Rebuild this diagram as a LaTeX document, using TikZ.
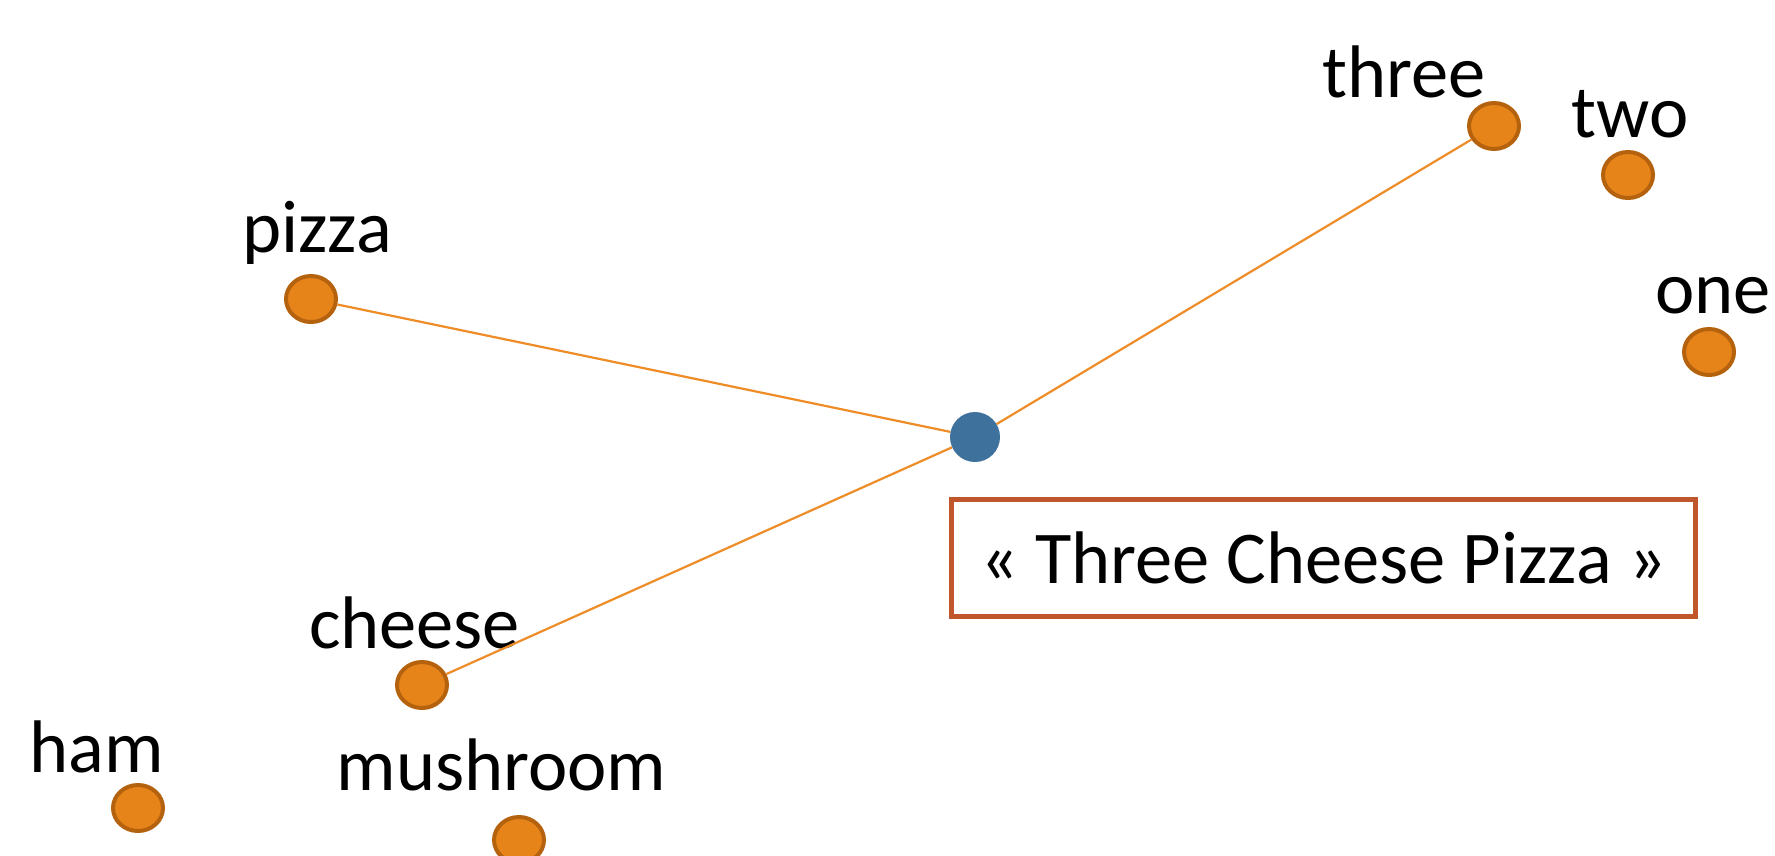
\documentclass[tikz,border=0pt]{standalone}
\usepackage{fontspec}
\setmainfont{Carlito}
\usetikzlibrary{shapes.geometric}
\definecolor{dotfill}{HTML}{E6841A}
\definecolor{dotedge}{HTML}{B5620E}
\definecolor{hubfill}{HTML}{3E729C}
\definecolor{linkcol}{HTML}{EE8C28}
\definecolor{boxcol}{HTML}{C0572C}
\tikzset{
  word/.style={anchor=base, inner sep=0pt, font=\fontsize{74.5}{84}\selectfont},
  tokendot/.style={ellipse, draw=dotedge, line width=4pt, fill=dotfill,
    minimum width=50pt, minimum height=46pt, inner sep=0pt},
  hubdot/.style={circle, fill=hubfill, minimum size=50pt, inner sep=0pt},
  link/.style={draw=linkcol, line width=2.2pt},
  phrasebox/.style={draw=boxcol, line width=5pt, minimum width=744pt,
    minimum height=117pt, inner sep=0pt, font=\fontsize{74.5}{84}\selectfont}
}
\begin{document}
\begin{tikzpicture}[x=1pt, y=-1pt]
\useasboundingbox (0,0) rectangle (1775,855);

% word labels
\node[word] (lthree) at (1404,97) {three};
\node[word] (ltwo) at (1630,137) {two};
\node[word] (lone) at (1713,313) {one};
\node[word] (lpizza) at (317,252) {pizza};
\node[word] (lcheese) at (414.5,648) {cheese};
\node[word] (lham) at (97,772) {ham};
\node[word] (lmushroom) at (501.5,790) {mushroom};

% word points
\node[tokendot] (three) at (1494,126) {};
\node[tokendot] (two) at (1628,175) {};
\node[tokendot] (one) at (1709,352) {};
\node[tokendot] (pizza) at (311,299) {};
\node[tokendot] (cheese) at (422,685) {};
\node[tokendot] (ham) at (138,808) {};
\node[tokendot] (mushroom) at (519,840) {};

% phrase point and its links
\node[hubdot] (hub) at (975,437) {};
\draw[link] (hub) -- (pizza);
\draw[link] (hub) -- (three);
\draw[link] (hub) -- (cheese);

% phrase caption
\node[phrasebox] (phrase) at (1323.5,558) {« Three Cheese Pizza »};
\end{tikzpicture}
\end{document}
